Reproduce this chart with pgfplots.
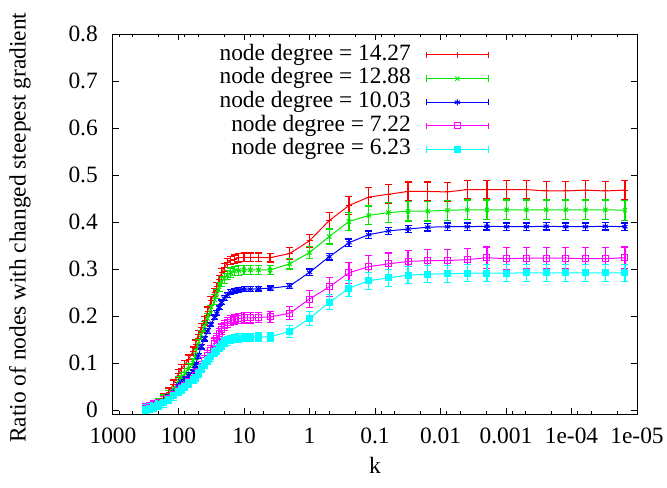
\documentclass[border=0pt]{standalone}
\usepackage{fontspec}
\setmainfont{Liberation Serif}
\usepackage{pgfplots}
\usepackage{pgfplotstable}
\pgfplotsset{compat=1.18}

\definecolor{gpred}{RGB}{255,0,0}
\definecolor{gpgreen}{RGB}{0,230,0}
\definecolor{gpblue}{RGB}{0,0,255}
\definecolor{gpmag}{RGB}{255,0,255}
\definecolor{gpcyan}{RGB}{0,255,255}

\pgfplotstableread{
k r re g ge b be m me c ce
320 0.004 0.009 0.003 0.010 0.003 0.005 0.003 0.011 0.002 0.009
280 0.007 0.009 0.006 0.010 0.006 0.005 0.005 0.011 0.004 0.009
240 0.011 0.009 0.010 0.010 0.009 0.005 0.008 0.011 0.007 0.009
200 0.016 0.009 0.015 0.010 0.013 0.005 0.012 0.011 0.011 0.009
170 0.025 0.009 0.022 0.010 0.019 0.005 0.017 0.011 0.015 0.009
140 0.038 0.009 0.032 0.010 0.027 0.005 0.024 0.011 0.022 0.009
120 0.055 0.009 0.045 0.010 0.038 0.005 0.032 0.011 0.030 0.009
100 0.078 0.009 0.062 0.010 0.053 0.005 0.042 0.011 0.040 0.009
90 0.088 0.009 0.070 0.010 0.060 0.005 0.047 0.011 0.045 0.009
80 0.097 0.009 0.078 0.010 0.067 0.005 0.053 0.011 0.050 0.009
70 0.108 0.009 0.088 0.010 0.074 0.005 0.060 0.011 0.058 0.009
60 0.125 0.009 0.100 0.010 0.082 0.005 0.068 0.011 0.065 0.009
55 0.140 0.009 0.118 0.010 0.095 0.005 0.074 0.011 0.070 0.009
50 0.160 0.009 0.140 0.010 0.115 0.005 0.082 0.011 0.078 0.009
45 0.175 0.009 0.160 0.010 0.135 0.005 0.093 0.011 0.088 0.009
40 0.190 0.009 0.178 0.010 0.152 0.005 0.105 0.011 0.097 0.009
36 0.210 0.009 0.195 0.010 0.168 0.005 0.115 0.011 0.105 0.009
32 0.232 0.009 0.213 0.010 0.182 0.005 0.126 0.011 0.113 0.009
28 0.250 0.009 0.235 0.010 0.197 0.005 0.142 0.011 0.122 0.009
26 0.262 0.009 0.247 0.010 0.206 0.005 0.152 0.011 0.127 0.009
24 0.278 0.009 0.262 0.010 0.218 0.005 0.162 0.011 0.133 0.009
22 0.292 0.009 0.273 0.010 0.229 0.005 0.172 0.011 0.139 0.009
20 0.303 0.009 0.280 0.010 0.238 0.005 0.180 0.011 0.144 0.009
18 0.313 0.009 0.287 0.010 0.245 0.005 0.186 0.011 0.147 0.009
16 0.318 0.009 0.292 0.010 0.251 0.005 0.190 0.011 0.150 0.009
14 0.321 0.009 0.296 0.010 0.254 0.005 0.193 0.011 0.152 0.009
12 0.324 0.009 0.297 0.010 0.256 0.005 0.195 0.011 0.153 0.009
10 0.325 0.009 0.298 0.010 0.257 0.005 0.196 0.011 0.154 0.009
8 0.325 0.009 0.298 0.010 0.257 0.005 0.196 0.011 0.154 0.009
6 0.325 0.009 0.298 0.010 0.258 0.005 0.197 0.011 0.155 0.009
4 0.324 0.009 0.298 0.010 0.259 0.005 0.198 0.011 0.156 0.009
2 0.333 0.012 0.311 0.011 0.264 0.006 0.206 0.014 0.167 0.013
1 0.360 0.014 0.335 0.013 0.293 0.007 0.236 0.018 0.195 0.015
0.5 0.403 0.017 0.369 0.016 0.326 0.007 0.262 0.020 0.229 0.016
0.25 0.435 0.019 0.401 0.019 0.356 0.008 0.292 0.022 0.259 0.017
0.125 0.453 0.020 0.414 0.020 0.373 0.008 0.305 0.023 0.275 0.018
0.0625 0.459 0.020 0.420 0.021 0.381 0.008 0.311 0.023 0.281 0.018
0.03125 0.465 0.020 0.423 0.021 0.385 0.008 0.316 0.023 0.287 0.018
0.015625 0.465 0.020 0.423 0.021 0.389 0.008 0.318 0.023 0.289 0.018
0.0078125 0.464 0.020 0.425 0.021 0.390 0.008 0.318 0.023 0.290 0.018
0.00390625 0.469 0.020 0.426 0.021 0.390 0.008 0.320 0.023 0.291 0.018
0.001953125 0.469 0.020 0.426 0.021 0.391 0.008 0.324 0.023 0.291 0.018
0.0009765625 0.469 0.020 0.426 0.021 0.390 0.008 0.322 0.023 0.291 0.018
0.00048828125 0.469 0.020 0.426 0.021 0.390 0.008 0.323 0.023 0.292 0.018
0.000244140625 0.466 0.020 0.426 0.021 0.391 0.008 0.323 0.023 0.292 0.018
0.0001220703125 0.466 0.020 0.426 0.021 0.390 0.008 0.323 0.023 0.292 0.018
0.00006103515625 0.468 0.020 0.426 0.021 0.390 0.008 0.322 0.023 0.292 0.018
0.000030517578125 0.466 0.020 0.426 0.021 0.391 0.008 0.322 0.023 0.292 0.018
0.0000152587890625 0.468 0.020 0.425 0.021 0.390 0.008 0.324 0.023 0.292 0.018
}\datatable

\pgfplotsset{
  gpstyle/.style={
    color=#1, line width=0.5pt, mark size=1.5pt,
    mark options={solid, line width=0.5pt, #1},
    error bars/.cd, y dir=both, y explicit,
    error bar style={line width=0.6pt, solid, #1},
    error mark options={rotate=90, mark size=1.75pt, line width=0.6pt, #1},
  },
}

\begin{document}
\fontsize{11.7pt}{14pt}\selectfont
\begin{tikzpicture}
\useasboundingbox (-56.5pt,-36.5pt) rectangle (277pt,207pt);
\begin{axis}[
  at={(0pt,0pt)}, anchor=south west,
  scale only axis, width=262pt, height=190pt,
  xmode=log, x dir=reverse,
  xmin=1e-5, xmax=1000,
  ymin=-0.0085, ymax=0.8,
  xtick={1000,100,10,1,0.1,0.01,0.001,0.0001,0.00001},
  xticklabels={1000,100,10,1,0.1,0.01,0.001,1e-04,1e-05},
  minor xtick={800,500,200,80,50,20,8,5,2,0.8,0.5,0.2,0.08,0.05,0.02,0.008,0.005,0.002,0.0008,0.0005,0.0002,0.00008,0.00005,0.00002},
  ytick={0,0.1,0.2,0.3,0.4,0.5,0.6,0.7,0.8},
  yticklabels={0,0.1,0.2,0.3,0.4,0.5,0.6,0.7,0.8},
  major tick length=3pt, minor tick length=1.5pt,
  tick style={line width=0.5pt, black},
  axis line style={line width=0.5pt},
  xticklabel style={yshift=-3pt},
  yticklabel style={xshift=-3.5pt},
  xlabel={k},
  ylabel={Ratio of nodes with changed steepest gradient},
  xlabel style={at={(axis description cs:0.5,-0.134)}, anchor=center},
  ylabel style={at={(axis description cs:-0.1775,0.49)}, anchor=center, rotate=0},
  legend plot pos=right,
  legend cell align=right,
  legend style={draw=none, fill=none, at={(axis description cs:0.718,0.977)}, anchor=north east,
    inner sep=0pt, column sep=7.5pt, row sep=0pt,
    nodes={inner sep=0pt, text height=8.5pt, text depth=3.33pt}},
  legend image code/.code={
    \draw[#1, mark=none] (0pt,0pt) -- (31pt,0pt);
    \draw[#1, mark=none] (0pt,-1.6pt) -- (0pt,1.6pt) (31pt,-1.6pt) -- (31pt,1.6pt);
    \draw[#1, only marks] plot coordinates {(15.5pt,0pt)};
  },
]
\addplot[mark=+, gpstyle=gpred] table[x=k, y=r, y error=re] {\datatable};
\addlegendentry{node degree = 14.27}
\addplot[mark=x, gpstyle=gpgreen] table[x=k, y=g, y error=ge] {\datatable};
\addlegendentry{node degree = 12.88}
\addplot[mark=asterisk, gpstyle=gpblue] table[x=k, y=b, y error=be] {\datatable};
\addlegendentry{node degree = 10.03}
\addplot[mark=square, gpstyle=gpmag] table[x=k, y=m, y error=me] {\datatable};
\addlegendentry{node degree = 7.22}
\addplot[mark=square*, mark options={fill=gpcyan}, gpstyle=gpcyan] table[x=k, y=c, y error=ce] {\datatable};
\addlegendentry{node degree = 6.23}
\end{axis}
\end{tikzpicture}
\end{document}
